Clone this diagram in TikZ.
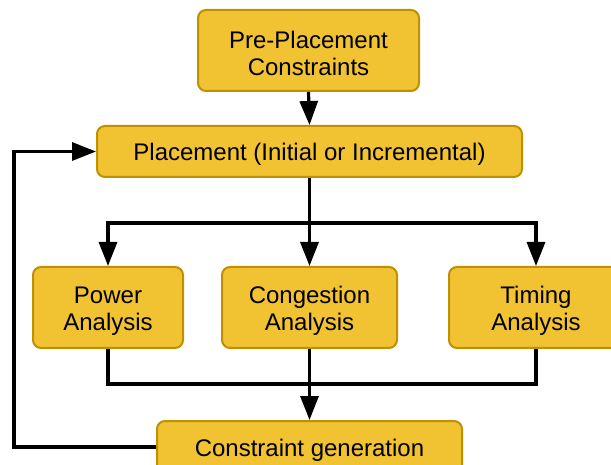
\documentclass[tikz,border=0pt]{standalone}
\usepackage{fontspec}
\setmainfont{Liberation Sans}
\usetikzlibrary{arrows.meta}
\definecolor{boxfill}{HTML}{F1C232}
\definecolor{boxline}{HTML}{BF9000}
\newcommand{\topstrut}{\rule{0pt}{23pt}}
\tikzset{
  box/.style={draw=boxline, fill=boxfill, line width=2pt, rounded corners=8pt,
    align=center, inner sep=0pt, font=\fontsize{24}{27}\selectfont, text=black},
  conn/.style={draw=black, line width=3.2pt},
  arr/.style={conn, -{Triangle[length=24pt,width=18pt]}}
}
\begin{document}
\begin{tikzpicture}[x=1pt,y=-1pt]
\useasboundingbox (0,0) rectangle (611,465);
\node[box, minimum width=221pt, minimum height=81pt] (pre) at (308.5,50.5) {\topstrut Pre-Placement\\Constraints};
\node[box, minimum width=425pt, minimum height=51pt] (place) at (309.5,151.5) {\topstrut Placement (Initial or Incremental)};
\node[box, minimum width=150pt, minimum height=81pt] (power) at (108,307.5) {\topstrut Power\\Analysis};
\node[box, minimum width=175pt, minimum height=81pt] (cong) at (309.5,307.5) {\topstrut Congestion\\Analysis};
\node[box, minimum width=174pt, minimum height=81pt] (timing) at (536,307.5) {\topstrut Timing\\Analysis};
\node[box, minimum width=305pt, minimum height=52pt] (cons) at (309.5,447) {\topstrut Constraint generation};
\coordinate (branch) at (309.5,223);
\coordinate (merge) at (309.5,384);
\coordinate (loopx) at (14,300);
\draw[arr] (pre.south) -- (place.north);
\draw[conn] (place.south) -- (branch);
\draw[arr] (branch) -| (power.north);
\draw[arr] (branch) -| (timing.north);
\draw[arr] (branch) -- (cong.north);
\draw[conn] (power.south) |- (merge) -| (timing.south);
\draw[arr] (cong.south) -- (cons.north);
\draw[arr] (cons.west) -| (loopx) |- (place.west);
\end{tikzpicture}
\end{document}
